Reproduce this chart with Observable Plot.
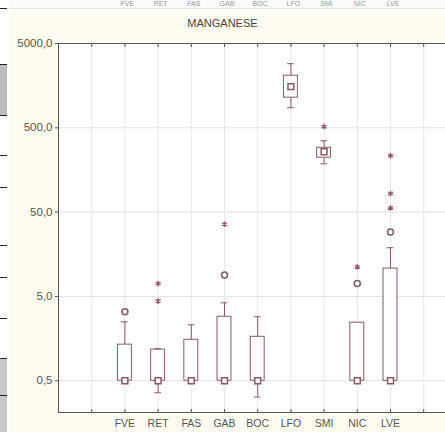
<!DOCTYPE html>
<html>
<head>
<meta charset="utf-8">
<script src="https://cdn.jsdelivr.net/npm/d3@7"></script>
<script src="https://cdn.jsdelivr.net/npm/@observablehq/plot@0.6"></script>
<style>
  html, body { margin: 0; padding: 0; background: #fffdf1; overflow: hidden; width: 445px; height: 432px; }
  #page { position: relative; width: 445px; height: 432px; overflow: hidden; font-family: "Liberation Sans", Arial, sans-serif; }
  #prev { position: absolute; left: 0; top: 0; width: 445px; height: 8px; background: #fbfbfb; border-bottom: 1px solid #e4e4e4; overflow: hidden; }
  #prev span { position: absolute; top: 0; font-size: 7px; line-height: 7px; color: #999; transform: translateX(-50%); }
  #side { position: absolute; left: 0; top: 0; width: 9px; height: 432px; background: #ffffff; }
  #side div { position: absolute; left: 0; width: 7px; }
  #title { position: absolute; left: 0; width: 445px; top: 17px; text-align: center; font-size: 11px; color: #444; }
  #chart { position: absolute; left: 0; top: 32px; }
</style>
</head>
<body>
<div id="page">
  <div id="prev"></div>
  <div id="side">
    <div style="top:8px;height:1px;background:#222"></div>
    <div style="top:64px;height:50px;background:#bdbdbd;border-top:1px solid #222;border-bottom:1px solid #222"></div>
    <div style="top:155px;height:1px;background:#222"></div>
    <div style="top:187px;height:1px;background:#222"></div>
    <div style="top:245px;height:1px;background:#222"></div>
    <div style="top:277px;height:1px;background:#222"></div>
    <div style="top:318px;height:1px;background:#222"></div>
    <div style="top:358px;height:74px;background:#c8c8c8;border-top:1px solid #222"></div>
    <div style="top:395px;height:1px;background:#222"></div>
  </div>
  <div id="title">MANGANESE</div>
  <div id="chart"></div>
</div>
<script>
// Manganese concentrations by site: box = quartiles, whiskers = non-outlier range
const categories  = ["FVE", "RET", "FAS", "GAB", "BOC", "LFO", "SMI", "NIC", "LVE"];
const median      = [0.5, 0.5, 0.5, 0.5, 0.5, 1540, 260, 0.5, 0.5];
const q1          = [0.5, 0.5, 0.5, 0.5, 0.5, 1140, 221, 0.5, 0.5];
const q3          = [1.34, 1.17, 1.53, 2.87, 1.66, 2075, 290, 2.44, 10.7];
const whiskerLow  = [0.5, 0.36, 0.5, 0.5, 0.32, 866, 187, 0.5, 0.5];
const whiskerHigh = [2.5, 1.2, 2.3, 4.2, 2.87, 2880, 351, 2.44, 18.9];

// outliers (circles) and extremes (asterisks)
const outlierSite = ["FVE", "GAB", "NIC", "LVE"];
const outlierVal  = [3.3, 9.0, 7.1, 29];
const extremeSite = ["RET", "RET", "GAB", "SMI", "NIC", "LVE", "LVE", "LVE"];
const extremeVal  = [7.1, 4.4, 36, 515, 11.2, 56, 83, 233];

const yTicks = [0.5, 5, 50, 500, 5000];

// slot 0 and slot 10 are empty positions flanking the sites
const slot = c => categories.indexOf(c) + 1;
const slots = d3.range(0, categories.length + 2);

const boxes = categories.map((c, i) => ({
  k: slot(c), q1: q1[i], med: median[i], q3: q3[i], lo: whiskerLow[i], hi: whiskerHigh[i]
}));
const outliers = outlierSite.map((c, i) => ({k: slot(c), v: outlierVal[i]}));
const extremes = extremeSite.map((c, i) => ({k: slot(c), v: extremeVal[i]}));

const fmt = d => d3.format(".1f")(d).replace(".", ",");
const boxColor = "#8c5a5e";

const chart = Plot.plot({
  width: 460,
  height: 400,
  marginLeft: 58,
  marginRight: 3.6,
  marginTop: 11,
  marginBottom: 20,
  style: {background: "transparent", maxWidth: "none", fontFamily: "Liberation Sans, Arial, sans-serif", fontSize: "10.5px", color: "#555"},
  x: {type: "linear", domain: [-1, 11]},
  y: {type: "log", domain: [0.21, 5000]},
  marks: [
    Plot.frame({fill: "white"}),
    Plot.gridY(yTicks, {stroke: "#e2e2e2", strokeOpacity: 1}),
    Plot.gridX(slots, {stroke: "#e8e8e8", strokeOpacity: 1}),
    Plot.axisY({ticks: yTicks, tickFormat: () => "", tickSize: 3, label: null, color: "#555"}),
    Plot.text(yTicks, {y: d => d, text: fmt, frameAnchor: "left", textAnchor: "end", dx: -6, fill: "#555", fontSize: 11.5}),
    Plot.axisX({ticks: slots, tickFormat: k => categories[k - 1] ?? "", tickSize: -3, tickPadding: 10, label: null, color: "#555"}),
    Plot.axisX({anchor: "top", ticks: slots, tickFormat: () => "", tickSize: -3, label: null, color: "#555"}),
    Plot.ruleX(boxes, {x: "k", y1: "q3", y2: "hi", stroke: boxColor}),
    Plot.ruleX(boxes, {x: "k", y1: "lo", y2: "q1", stroke: boxColor}),
    Plot.ruleY(boxes.filter(b => b.hi > b.q3), {y: "hi", x1: b => b.k - 0.1, x2: b => b.k + 0.1, stroke: boxColor}),
    Plot.ruleY(boxes.filter(b => b.lo < b.q1), {y: "lo", x1: b => b.k - 0.1, x2: b => b.k + 0.1, stroke: boxColor}),
    Plot.rect(boxes, {x1: b => b.k - 0.21, x2: b => b.k + 0.21, y1: "q1", y2: "q3", fill: "white", stroke: boxColor}),
    Plot.dot(boxes, {x: "k", y: "med", symbol: "square", r: 3.3, fill: "white", stroke: boxColor}),
    Plot.dot(outliers, {x: "k", y: "v", symbol: "circle", r: 3, fill: "white", stroke: "#7a5a5a"}),
    Plot.dot(extremes, {x: "k", y: "v", symbol: "asterisk", r: 2.7, stroke: "#9a5070", strokeWidth: 1.3}),
    Plot.frame({stroke: "#555"})
  ]
});
document.getElementById("chart").appendChild(chart);

// header strip repeating the site codes at the same positions
const prev = document.getElementById("prev");
const xs = chart.scale("x");
categories.forEach(c => {
  const s = document.createElement("span");
  s.textContent = c;
  s.style.left = (xs.apply(slot(c)) + 3) + "px";
  prev.appendChild(s);
});
</script>
</body>
</html>
